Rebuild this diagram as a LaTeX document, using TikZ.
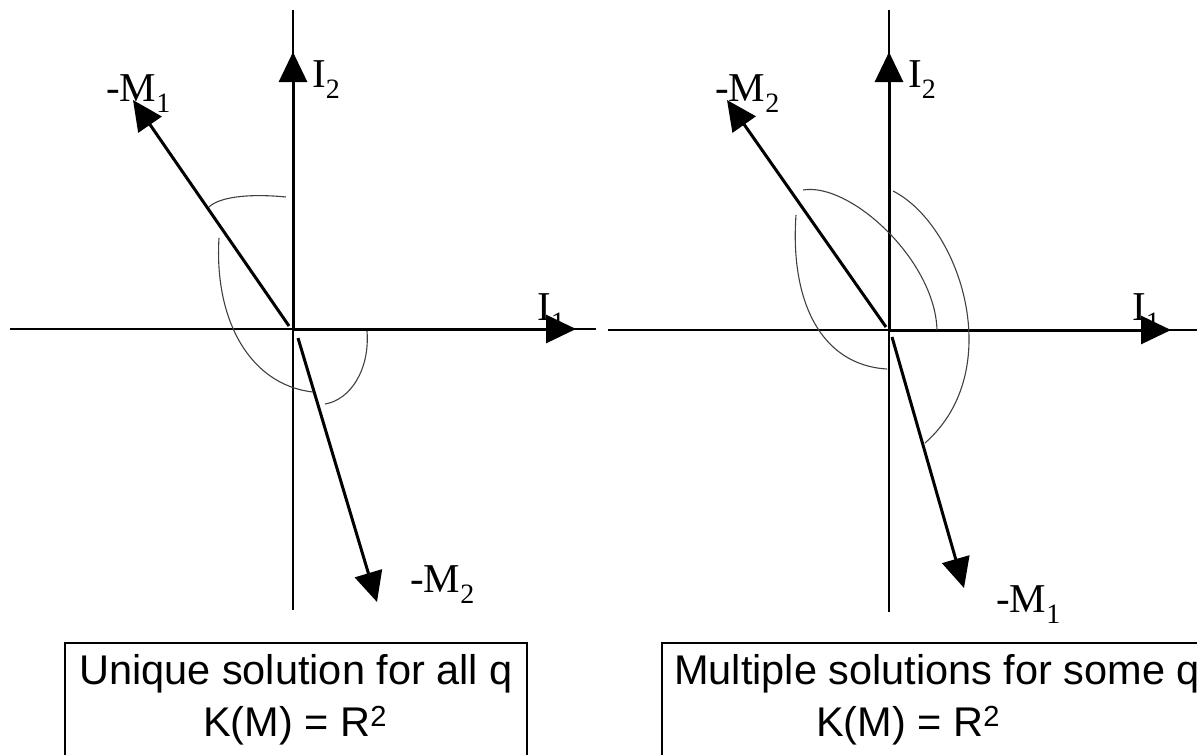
\documentclass[tikz,border=0pt]{standalone}
\usepackage{fontspec}
\setmainfont{Liberation Serif}
\newfontfamily\boxfont{Liberation Sans}
\usetikzlibrary{arrows.meta}
\newcommand\lab[2]{#1\raisebox{-0.27em}{\fontsize{28}{28}\selectfont #2}}
\begin{document}
\begin{tikzpicture}[x=1pt,y=-1pt,
  thinaxis/.style={line width=1.3pt},
  vec/.style={line width=3pt,-{Triangle[length=30pt,width=28pt]}},
  arcline/.style={line width=1.1pt,draw=black!75},
  lbl/.style={inner sep=0pt,anchor=base west,font=\fontsize{41}{41}\selectfont},
  boxtxt/.style={inner sep=0pt,anchor=base,font=\boxfont\fontsize{41.5}{41.5}\selectfont},
  boxline/.style={line width=1.2pt}]
\useasboundingbox (0,0) rectangle (1197,755);
% ---------- left diagram ----------
\coordinate (O1) at (293,329);
\coordinate (V1t) at (293,10);
\coordinate (V1b) at (293,610);
\coordinate (H1l) at (10,329);
\coordinate (H1r) at (596,329);
\coordinate (I2a) at (293,52);
\coordinate (I1a) at (576,329);
\coordinate (M1s) at (289,326);
\coordinate (M1a) at (133,100);
\coordinate (M2s) at (298,338);
\coordinate (M2a) at (377,602);
\draw[thinaxis] (V1t) -- (V1b);
\draw[thinaxis] (H1l) -- (H1r);
\draw[vec] (O1) -- (I2a);
\draw[vec] (O1) -- (I1a);
\draw[vec] (M1s) -- (M1a);
\draw[vec] (M2s) -- (M2a);
\draw[arcline] (209,207) .. controls (218,198) and (245,193) .. (286,197);
\draw[arcline] (219,238) .. controls (214,320) and (250,385) .. (313,392);
\draw[arcline] (367,331) .. controls (370,370) and (350,400) .. (325,404);
\node[lbl] (lI2) at (312,87) {\lab{I}{2}};
\node[lbl] (lI1) at (537,320) {\lab{I}{1}};
\node[lbl] (lM1) at (106,101) {\lab{-M}{1}};
\node[lbl] (lM2) at (410,592) {\lab{-M}{2}};
% ---------- right diagram ----------
\coordinate (O2) at (889,330);
\coordinate (V2t) at (889,10);
\coordinate (V2b) at (889,612);
\coordinate (H2l) at (608,330);
\coordinate (H2r) at (1197,330);
\coordinate (J2a) at (889,52);
\coordinate (J1a) at (1171,330);
\coordinate (N2s) at (886,327);
\coordinate (N2a) at (727,100);
\coordinate (N1s) at (892,337);
\coordinate (N1a) at (964,588);
\draw[thinaxis] (V2t) -- (V2b);
\draw[thinaxis] (H2l) -- (H2r);
\draw[vec] (O2) -- (J2a);
\draw[vec] (O2) -- (J1a);
\draw[vec] (N2s) -- (N2a);
\draw[vec] (N1s) -- (N1a);
\draw[arcline] (803,190) .. controls (850,182) and (935,260) .. (937,330);
\draw[arcline] (796,215) .. controls (790,300) and (820,365) .. (887,369);
\draw[arcline] (893,191) .. controls (960,225) and (1008,370) .. (925,443);
\node[lbl] (rI2) at (908,87) {\lab{I}{2}};
\node[lbl] (rI1) at (1132,320) {\lab{I}{1}};
\node[lbl] (rM2) at (715,101) {\lab{-M}{2}};
\node[lbl] (rM1) at (996,612) {\lab{-M}{1}};
% ---------- boxes ----------
\draw[boxline] (65,760) -- (65,643) -- (527,643) -- (527,760);
\draw[boxline] (662,760) -- (662,643) -- (1205,643);
\node[boxtxt] (lt1) at (296,684) {Unique solution for all q};
\node[boxtxt] (lt2) at (295,736) {K(M) = R\textsuperscript{2}};
\node[boxtxt,anchor=base west] (rt1) at (674,684) {Multiple solutions for some q};
\node[boxtxt,anchor=base west] (rt2) at (816,736) {K(M) = R\textsuperscript{2}};
\end{tikzpicture}
\end{document}
